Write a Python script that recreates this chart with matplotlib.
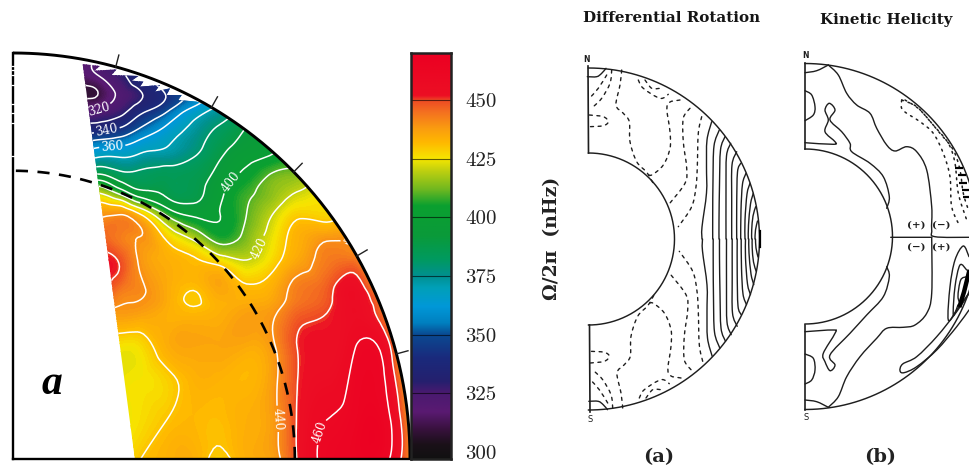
import numpy as np
import matplotlib
matplotlib.use("Agg")
import matplotlib.pyplot as plt
import matplotlib.tri as mtri
from matplotlib.colors import LinearSegmentedColormap, Normalize
from matplotlib.patches import Polygon, PathPatch
from matplotlib.path import Path

W, H = 969, 471

grid_x = [240, 300, 360, 420, 500, 580, 660, 740, 820, 900, 980, 1060, 1140, 1230]
grid_y = [60, 110, 160, 210, 260, 310, 360, 410, 460, 520, 590, 660, 740, 780, 820, 920, 1020, 1140, 1260]
rate = [
    [318, 322, 330, 337, 345, 355, 365, 375, 385, 395, 405, 415, 425, 435],
    [314, 320, 327, 338, 349, 363, 375, 385, 395, 405, 415, 425, 435, 440],
    [307, 311, 322, 329, 341, 353, 370, 385, 395, 405, 415, 425, 435, 440],
    [318, 321, 326, 336, 348, 363, 373, 385, 395, 405, 415, 425, 435, 440],
    [331, 334, 339, 349, 361, 372, 381, 390, 397, 405, 415, 425, 435, 440],
    [348, 355, 357, 363, 369, 376, 386, 393, 398, 405, 415, 425, 435, 440],
    [366, 373, 372, 374, 376, 381, 390, 398, 403, 408, 418, 428, 438, 442],
    [387, 394, 385, 383, 385, 386, 394, 403, 412, 415, 422, 430, 438, 442],
    [418, 420, 408, 394, 388, 387, 398, 408, 415, 421, 426, 432, 438, 442],
    [436, 438, 439, 429, 407, 397, 400, 410, 420, 428, 427, 432, 438, 442],
    [445, 447, 443, 440, 428, 417, 405, 413, 424, 434, 438, 439, 438, 436],
    [449, 452, 449, 439, 434, 431, 425, 420, 427, 436, 443, 444, 436, 430],
    [451, 452, 445, 441, 435, 431, 436, 431, 434, 443, 447, 455, 438, 425],
    [446, 446, 441, 440, 435, 429, 434, 434, 436, 444, 448, 456, 444, 422],
    [440, 438, 438, 437, 434, 432, 434, 437, 439, 447, 450, 456, 447, 420],
    [425, 425, 425, 426, 434, 436, 436, 435, 439, 451, 453, 459, 459, 420],
    [424, 424, 424, 425, 428, 433, 433, 432, 438, 451, 455, 462, 463, 430],
    [424, 424, 424, 426, 430, 432, 431, 434, 438, 452, 460, 464, 466, 438],
    [424, 424, 425, 430, 433, 434, 428, 434, 437, 452, 462, 465, 465, 440],
]
cbar_ticks = [300, 325, 350, 375, 400, 425, 450]
contour_levels = [300, 310, 320, 330, 340, 350, 360, 370, 380, 390, 400, 410, 420, 430, 440, 450, 460]
cmap_values = [297, 303, 310, 317, 325, 330, 340, 350, 355, 362, 370, 375, 382, 392, 405, 412, 420, 425, 432, 438, 445, 450, 452, 470]
cmap_colors = ['#111111', '#1a1018', '#3a1240', '#5a1a72', '#4a1a70', '#25206e', '#1a2a7c', '#0a4a92',
               '#0080c0', '#0098d8', '#00a0b8', '#009090', '#009a60', '#0a9a3a', '#0aa030', '#70b820',
               '#c0d010', '#f6e600', '#ffb800', '#fa9c10', '#f47020', '#ee4a24', '#ec0f24', '#ec0022']
label_spots = [(0.218, 0.853), (0.235, 0.815), (0.250, 0.772), (0.552, 0.679),
               (0.622, 0.519), (0.849, 0.505), (0.668, 0.099), (0.792, 0.060)]
# upper rim of the coloured field, as torn in the picture (zoomed-trace units)
rim_x = [248, 300, 283, 350, 335, 415, 395, 430, 420, 480, 465, 510, 500, 545, 535, 590, 640]
rim_y = [72, 78, 92, 88, 105, 108, 122, 125, 140, 135, 155, 145, 165, 165, 180, 185, 205]
left_edge_x = [0.307, 0.176]
left_edge_y = [0.0, 0.970]
tick_colat = [15, 30, 45, 60, 75]
spine_marks_y = [0.969, 0.957, 0.945, 0.92, 0.875, 0.852, 0.828, 0.746]


def axes_px(x0, y0, x1, y1):
    return fig.add_axes([x0 / W, 1 - y1 / H, (x1 - x0) / W, (y1 - y0) / H])


def smooth(a, xs, ys, **kw):
    """Draw a traced line through its points as Bezier pieces."""
    P = np.column_stack([xs, ys]).astype(float)
    verts, codes = [P[0]], [Path.MOVETO]
    for i in range(len(P) - 1):
        p0 = P[max(i - 1, 0)]
        p3 = P[min(i + 2, len(P) - 1)]
        verts += [P[i] + (P[i + 1] - p0) / 6, P[i + 1] - (p3 - P[i]) / 6, P[i + 1]]
        codes += [Path.CURVE4] * 3
    a.add_patch(PathPatch(Path(verts, codes), fill=False, capstyle='round', **kw))


fig = plt.figure(figsize=(W / 100, H / 100), dpi=100, facecolor='white')
ax = axes_px(13, 53, 410, 459)
ax.set_xlim(0, 1)
ax.set_ylim(0, 1)
ax.set_xticks([])
ax.set_yticks([])
ax.patch.set_alpha(0)
for s in ('top', 'right'):
    ax.spines[s].set_visible(False)
for s in ('left', 'bottom'):
    ax.spines[s].set_linewidth(1.7)

gx = (np.array(grid_x) - 39) / 1191
gy = (1257 - np.array(grid_y)) / 1218
GX, GY = np.meshgrid(gx, gy)
tri0 = mtri.Triangulation(GX.ravel(), GY.ravel())
refiner = mtri.UniformTriRefiner(tri0)
tri1, z1 = refiner.refine_field(np.array(rate, float).ravel(), subdiv=3)

cmap = LinearSegmentedColormap.from_list(
    'omega', [((v - 297) / (470 - 297), c) for v, c in zip(cmap_values, cmap_colors)], N=512)
norm = Normalize(297, 470)

rim_nx = (np.array(rim_x) - 39) / 1191
rim_ny = (1257 - np.array(rim_y)) / 1218
a_end = np.arctan2(rim_ny[-1], rim_nx[-1])
lat = np.linspace(a_end, 0, 150)
poly = np.column_stack([np.r_[left_edge_x[0], rim_nx, np.cos(lat)],
                        np.r_[left_edge_y[0], rim_ny, np.sin(lat)]])
clip = Polygon(poly, closed=True, transform=ax.transData, fc='none', ec='none')
ax.add_patch(clip)

cf = ax.tricontourf(tri1, z1, levels=np.arange(290, 480, 1.0), cmap=cmap, norm=norm, extend='both')
cf.set_clip_path(clip)
cs = ax.tricontour(tri1, z1, levels=contour_levels, colors='white', linewidths=1.1)
cs.set_clip_path(clip)
labels = ax.clabel(cs, manual=label_spots, fontsize=8.5, colors='white', fmt='%d', inline=True, inline_spacing=2)
for t in labels:
    t.set_family('DejaVu Serif')

# outer surface, tachocline, ticks
th = np.linspace(0, np.pi / 2, 300)
ax.plot(np.cos(th), np.sin(th), color='black', lw=2.1, clip_on=False, zorder=5, solid_capstyle='butt')
ax.plot(0.71 * np.cos(th), 0.71 * np.sin(th), color='black', lw=1.9, zorder=6, dashes=(4.6, 3.6))
for c in tick_colat:
    a = np.radians(c)
    ax.plot([np.sin(a), 1.03 * np.sin(a)], [np.cos(a), 1.03 * np.cos(a)], color='#222222', lw=1.0,
            clip_on=False, zorder=5)
ax.plot(np.zeros(len(spine_marks_y)), spine_marks_y, ls='none', marker='_', ms=3.5, mew=0.9, color='white',
        clip_on=False, zorder=6)
ax.text(0.098, 0.185, 'a', fontsize=30, family='Liberation Serif', style='italic', weight='bold',
        ha='center', va='center', color='black')

# ---------- colour bar
cax = axes_px(411, 53, 451, 459)
cax.imshow(np.linspace(297, 470, 512)[:, None], aspect='auto', origin='lower', extent=[0, 1, 297, 470],
           cmap=cmap, norm=norm)
cax.set_xticks([])
cax.set_yticks(cbar_ticks)
cax.yaxis.tick_right()
cax.tick_params(axis='y', length=0, pad=10, labelcolor='#222222')
for lab in cax.get_yticklabels():
    lab.set_family('cmr10')
    lab.set_fontsize(15)
for v in cbar_ticks[1:]:
    cax.axhline(v, color='black', lw=0.8, alpha=0.6)
for s in cax.spines.values():
    s.set_linewidth(1.8)
    s.set_edgecolor('#222222')

# ---------- panel 2: differential rotation contours (pixel-scaled trace)
a_solid_x = [
    [711.7, 707, 706.5, 706.5, 702, 702],
    [719.3, 714, 713, 712.7, 712.7],
    [725, 720.5, 719.5, 719, 719],
    [730.7, 726.5, 726, 726],
    [736.7, 732, 731.7, 731.7],
    [740.7, 737.5, 736.7, 736.7],
    [746, 742.5, 741, 740.7],
    [750, 747, 745, 745],
    [753.3, 750.5, 748.5, 748.3],
    [755.7, 753, 751.7, 751.7],
    [757.5, 755.5, 755],
]
a_solid_y = [
    [121.7, 140, 167, 193, 227, 239],
    [130, 146, 180, 215, 239],
    [136.7, 150, 185, 220, 239],
    [143.3, 156, 190, 239],
    [151.7, 165, 200, 239],
    [163.3, 172, 205, 239],
    [173.3, 184, 210, 239],
    [183.3, 194, 220, 239],
    [193.3, 204, 225, 239],
    [206.7, 216, 230, 239],
    [221, 230, 239],
]
a_cap_x = [587.3, 596.7, 601.7, 606]
a_cap_y = [76.7, 76.7, 73.3, 68.3]
a_dash_x = [
    [621.7, 620, 616, 623, 629.3, 630, 636.7, 646.7, 653],
    [611.7, 610, 601.7, 593.3],
    [606.7, 598.3, 589.3],
    [589.3, 603.3, 608.3, 603.3, 589.3],
    [638.3, 643.3, 660, 668.3],
    [645, 651.7, 660],
    [680, 667.3, 670, 670, 663.3, 651.7, 646.7],
    [690, 683.3, 683.3, 686.7, 685, 670],
    [701.7, 698.3, 697.3, 696, 691.7, 678.3],
]
a_dash_y = [
    [70, 85, 105, 113, 121.7, 141.7, 161.7, 172.3, 183],
    [70, 83.3, 98.3, 106.7],
    [75, 88.3, 98.3],
    [115, 116.7, 121.7, 125.7, 126.7],
    [80, 88.3, 98.3, 94.3],
    [80, 88.3, 88.3],
    [100, 105, 131.7, 148.3, 165, 175, 173.3],
    [108.3, 118.3, 141.7, 168.3, 183.3, 203],
    [116.7, 133.3, 166.7, 186.7, 206.7, 226.7],
]

ax2 = axes_px(570, 55, 770, 425)
ax2.set_xlim(570, 770)
ax2.set_ylim(425, 55)
ax2.axis('off')
INK = '#1e1e1e'


def half_ring(a, cx, cy, R_out, R_in):
    t = np.linspace(-np.pi / 2, np.pi / 2, 300)
    a.plot(cx + R_out * np.cos(t), cy + R_out * np.sin(t), color=INK, lw=1.05)
    a.plot(cx + R_in * np.cos(t), cy + R_in * np.sin(t), color=INK, lw=1.05)


half_ring(ax2, 588.5, 239, 171, 86)
ax2.plot([588, 588.5], [66, 153], color=INK, lw=1.2)
ax2.plot([589.5, 590], [325, 412], color=INK, lw=1.2)
for xs, ys in zip(a_solid_x, a_solid_y):
    xs, ys = np.array(xs), np.array(ys)
    smooth(ax2, xs, ys, ec=INK, lw=1.0)
    smooth(ax2, xs + 0.5, 478 - ys, ec=INK, lw=1.0)
smooth(ax2, a_cap_x, a_cap_y, ec=INK, lw=1.0)
smooth(ax2, np.array(a_cap_x) + 1.5, 478 - np.array(a_cap_y), ec=INK, lw=1.0)
for xs, ys in zip(a_dash_x, a_dash_y):
    xs, ys = np.array(xs), np.array(ys)
    smooth(ax2, xs, ys, ec=INK, lw=1.0, linestyle=(0, (2.2, 3.3)))
    smooth(ax2, xs + 1, 478 - ys, ec=INK, lw=1.0, linestyle=(0, (2.2, 3.3)))
ax2.plot([759.5, 759.5], [231, 247], color='black', lw=1.6)
ax2.text(587, 59, 'N', fontsize=5.5, family='DejaVu Sans', weight='bold', ha='center', va='center', color=INK)
ax2.text(590, 420, 'S', fontsize=6, family='DejaVu Sans', ha='center', va='center', color=INK)

# ---------- panel 3: kinetic helicity contours (pixel-scaled trace)
b_line_x = [
    [805, 816.7, 828.3],
    [828.3, 838.3, 846.7, 856.7, 870, 876.7, 886.7, 895, 906.7, 916.7, 926.7, 931.7, 931.7, 935, 969],
    [931.7, 931.7, 926.7, 915, 903.3, 886.7, 876.7, 860, 846.7, 838.3, 828.3],
    [890.7, 931.7],
    [805, 811.7, 815, 813.3, 805],
    [805, 833.3, 835, 825, 828.3, 825, 829.3, 835, 830, 841.7, 850, 851.7, 870, 883.3, 889.3, 886.7],
    [805, 833.3, 835, 823.3, 825, 830, 835, 830, 850, 866.7, 883.3, 889.3, 886.7],
    [805, 813.3, 815, 811.7, 805],
    [805, 816.7, 828.3],
    [969, 956.7, 936.7, 916.7, 902.7, 900, 904, 916.7, 936.7, 956.7, 969],
    [969, 963.3, 955, 950, 948.3, 956.7, 969],
    [966.7, 960, 955, 953.3, 958],
    [966.7, 960.7, 958, 961],
]
b_line_y = [
    [72.7, 70.7, 65],
    [65, 75, 93.3, 105, 113.3, 128.3, 145, 151, 146.7, 151.7, 170, 206.7, 230, 236.7, 237.3],
    [237.3, 293.3, 313.3, 325, 327.3, 328.3, 338.3, 356.7, 376.7, 396.7, 407.3],
    [237.3, 237.3],
    [90.7, 95, 106.7, 115, 120.7],
    [142.7, 144.3, 141.7, 131.7, 120, 110, 103.3, 110, 120, 131.7, 143.3, 151.7, 163.3, 176.7, 196.7, 208.3],
    [331.7, 330, 333.3, 353.3, 361.7, 370.7, 365, 355, 333.3, 315, 296.7, 276.7, 266.7],
    [354, 358.3, 370, 380, 384],
    [400, 401.7, 407.3],
    [293.3, 311.7, 336.7, 356.7, 364, 370.7, 372.7, 366.7, 350, 326.7, 310],
    [256.7, 246, 260, 286.7, 320, 310, 293],
    [270, 265, 286.7, 315, 305],
    [276.7, 280, 296.7, 305],
]
b_dot_x = [
    [901.7, 902.7, 920, 933.3, 943.3, 950, 951.7, 960],
    [901.7, 916.7, 931.7, 948.3, 955, 958.3, 966.7],
    [905, 920, 940, 953.3, 960, 963.3, 969],
]
b_dot_y = [
    [100, 110, 121.7, 133.3, 153.3, 176.7, 206.7, 226.7],
    [100, 106.7, 123.3, 143.3, 163.3, 193.3, 220],
    [100, 110, 133.3, 150, 170, 193.3, 211.7],
]
b_heavy_x = [959.3, 961.7, 963.3, 966, 967.3]
b_heavy_y = [168.3, 175, 183.3, 190, 197.3]
b_blob_x = [960, 964, 969]
b_blob_y = [305, 292, 272]
sign_labels = ['(+)', '(\u2212)', '(\u2212)', '(+)']
sign_x = [916, 941.7, 916, 941]
sign_y = [225, 225, 247.3, 247.3]

ax3 = axes_px(790, 50, 969, 430)
ax3.set_xlim(790, 969)
ax3.set_ylim(430, 50)
ax3.axis('off')
half_ring(ax3, 805, 236.5, 173, 87.5)
ax3.plot([805, 805], [63, 149], color=INK, lw=1.2)
ax3.plot([805, 805], [325, 410], color=INK, lw=1.2)
for xs, ys in zip(b_line_x, b_line_y):
    smooth(ax3, xs, ys, ec=INK, lw=1.0)
for xs, ys in zip(b_dot_x, b_dot_y):
    smooth(ax3, xs, ys, ec=INK, lw=1.1, linestyle=(0, (1.2, 3.2)))
ax3.plot(b_heavy_x, b_heavy_y, ls='none', marker='_', ms=6, mew=1.6, color='black')
ax3.plot(b_blob_x, b_blob_y, color='black', lw=3.2)
for s, x, y in zip(sign_labels, sign_x, sign_y):
    ax3.text(x, y, s, fontsize=7.5, family='DejaVu Serif', weight='bold', ha='center', va='center', color=INK)
ax3.text(805.7, 55, 'N', fontsize=5.5, family='DejaVu Sans', weight='bold', ha='center', va='center', color=INK)
ax3.text(805.7, 418, 'S', fontsize=6, family='DejaVu Sans', ha='center', va='center', color=INK)

# ---------- text
fig.text(671.7 / W, 1 - 18 / H, 'Differential Rotation', fontsize=10.9, family='DejaVu Serif', weight='bold',
         ha='center', va='center', color='#151515')
fig.text(886 / W, 1 - 20 / H, 'Kinetic Helicity', fontsize=10.8, family='DejaVu Serif', weight='bold',
         ha='center', va='center', color='#151515')
fig.text(552 / W, 1 - 238 / H, '\u03a9/2\u03c0  (nHz)', fontsize=13.5, family='DejaVu Serif', weight='bold', rotation=90,
         ha='center', va='center', color='#222222')
fig.text(659 / W, 1 - 457 / H, '(a)', fontsize=14, family='DejaVu Serif', weight='bold', ha='center', va='center', color='#222222')
fig.text(880 / W, 1 - 457 / H, '(b)', fontsize=14, family='DejaVu Serif', weight='bold', ha='center', va='center', color='#222222')

fig.savefig('out.png', dpi=100, facecolor='white')
